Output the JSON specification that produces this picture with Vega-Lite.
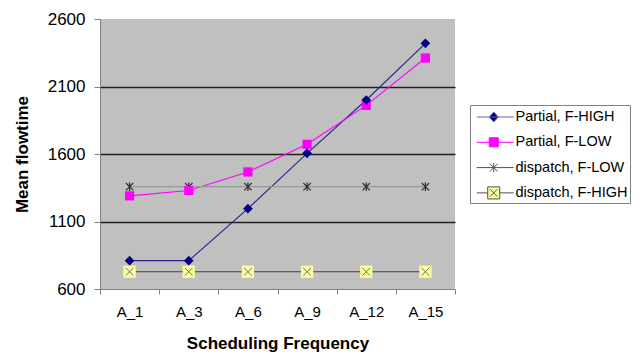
{
  "$schema": "https://vega.github.io/schema/vega-lite/v6.json",
  "width": 355,
  "height": 270,
  "autosize": {"type": "none"},
  "padding": {"left": 100, "top": 19, "right": 189, "bottom": 67},
  "background": "white",
  "config": {
    "view": {"fill": "#C0C0C0", "stroke": null},
    "font": "Liberation Sans"
  },
  "data": {
    "values": [
      {"freq": "A_1", "series": "Partial, F-HIGH", "flowtime": 810},
      {"freq": "A_3", "series": "Partial, F-HIGH", "flowtime": 810},
      {"freq": "A_6", "series": "Partial, F-HIGH", "flowtime": 1195},
      {"freq": "A_9", "series": "Partial, F-HIGH", "flowtime": 1605},
      {"freq": "A_12", "series": "Partial, F-HIGH", "flowtime": 2000},
      {"freq": "A_15", "series": "Partial, F-HIGH", "flowtime": 2420},
      {"freq": "A_1", "series": "Partial, F-LOW", "flowtime": 1290},
      {"freq": "A_3", "series": "Partial, F-LOW", "flowtime": 1330},
      {"freq": "A_6", "series": "Partial, F-LOW", "flowtime": 1467},
      {"freq": "A_9", "series": "Partial, F-LOW", "flowtime": 1672},
      {"freq": "A_12", "series": "Partial, F-LOW", "flowtime": 1960},
      {"freq": "A_15", "series": "Partial, F-LOW", "flowtime": 2311},
      {"freq": "A_1", "series": "dispatch, F-LOW", "flowtime": 1358},
      {"freq": "A_3", "series": "dispatch, F-LOW", "flowtime": 1358},
      {"freq": "A_6", "series": "dispatch, F-LOW", "flowtime": 1358},
      {"freq": "A_9", "series": "dispatch, F-LOW", "flowtime": 1358},
      {"freq": "A_12", "series": "dispatch, F-LOW", "flowtime": 1358},
      {"freq": "A_15", "series": "dispatch, F-LOW", "flowtime": 1358},
      {"freq": "A_1", "series": "dispatch, F-HIGH", "flowtime": 728},
      {"freq": "A_3", "series": "dispatch, F-HIGH", "flowtime": 728},
      {"freq": "A_6", "series": "dispatch, F-HIGH", "flowtime": 728},
      {"freq": "A_9", "series": "dispatch, F-HIGH", "flowtime": 728},
      {"freq": "A_12", "series": "dispatch, F-HIGH", "flowtime": 728},
      {"freq": "A_15", "series": "dispatch, F-HIGH", "flowtime": 728}
    ]
  },
  "encoding": {
    "x": {
      "field": "freq",
      "type": "ordinal",
      "sort": ["A_1", "A_3", "A_6", "A_9", "A_12", "A_15"],
      "bandPosition": 0.5,
      "scale": {"type": "band", "paddingInner": 0, "paddingOuter": 0},
      "axis": {
        "title": "Scheduling Frequency",
        "titleFontSize": 17,
        "titleFontWeight": "bold",
        "titleColor": "#000000",
        "titlePadding": 16,
        "labelAngle": 0,
        "labelFontSize": 15,
        "labelColor": "#000000",
        "labelPadding": 10,
        "tickBand": "extent",
        "tickSize": 5,
        "tickColor": "#808080",
        "domainColor": "#808080",
        "grid": false
      }
    },
    "y": {
      "field": "flowtime",
      "type": "quantitative",
      "scale": {"domain": [600, 2600], "nice": false, "zero": false},
      "axis": {
        "title": "Mean flowtime",
        "titleFontSize": 17,
        "titleFontWeight": "bold",
        "titleColor": "#000000",
        "titlePadding": 16,
        "values": [600, 1100, 1600, 2100, 2600],
        "format": "d",
        "labelFontSize": 17,
        "labelColor": "#000000",
        "labelPadding": 9,
        "tickSize": 6,
        "tickColor": "#808080",
        "domainColor": "#808080",
        "grid": true,
        "gridColor": "#202020",
        "gridWidth": 1.3,
        "gridOpacity": {"condition": {"test": "datum.value == 600 || datum.value == 2600", "value": 0}, "value": 1}
      }
    }
  },
  "layer": [
    {
      "mark": {"type": "line", "strokeWidth": 1.1},
      "encoding": {
        "color": {
          "field": "series",
          "type": "nominal",
          "scale": {
            "range": ["#222288", "#FF00FF", "#404040", "#999999"]
          },
          "legend": null
        },
        "detail": {"field": "series"}
      }
    },
    {
      "transform": [{"filter": "datum.series == 'dispatch, F-HIGH'"}],
      "mark": {"type": "point", "shape": "square", "filled": true, "color": "#FFFF99", "size": 150, "opacity": 1}
    },
    {
      "transform": [{"filter": "datum.series == 'dispatch, F-HIGH'"}],
      "mark": {"type": "point", "shape": "M-1,-1L1,1M-1,1L1,-1", "filled": false, "color": "#707070", "strokeWidth": 1, "size": 60, "opacity": 1}
    },
    {
      "transform": [{"filter": "datum.series == 'dispatch, F-LOW'"}],
      "mark": {"type": "point", "shape": "M-1,-1L1,1M-1,1L1,-1M0,-1.2L0,1.2", "filled": false, "color": "#303030", "strokeWidth": 1.2, "size": 55, "opacity": 1}
    },
    {
      "transform": [{"filter": "datum.series == 'Partial, F-LOW'"}],
      "mark": {"type": "point", "shape": "square", "filled": true, "color": "#FF00FF", "size": 85, "opacity": 1}
    },
    {
      "transform": [{"filter": "datum.series == 'Partial, F-HIGH'"}],
      "mark": {"type": "point", "shape": "diamond", "filled": true, "color": "#000080", "size": 95, "opacity": 1}
    },
    {
      "mark": {"type": "point", "filled": true, "size": 0, "opacity": 1},
      "encoding": {
        "shape": {
          "field": "series",
          "type": "nominal",
          "scale": {
            "domain": ["Partial, F-HIGH", "Partial, F-LOW", "dispatch, F-LOW", "dispatch, F-HIGH"],
            "range": [
              "M-0.57,0H3.43M0.78,0L1.27,-0.54L1.76,0L1.27,0.54Z",
              "M-0.57,0H3.43M0.78,-0.49H1.76V0.49H0.78Z",
              "M-0.57,0H3.43M0.84,-0.43L1.7,0.43M0.84,0.43L1.7,-0.43M1.27,-0.5V0.5",
              "M-0.57,0H0.62M1.92,0H3.43M0.62,-0.65H1.92V0.65H0.62ZM0.87,-0.4L1.67,0.4M0.87,0.4L1.67,-0.4"
            ]
          },
          "legend": {
            "title": null,
            "orient": "none",
            "legendX": 370,
            "legendY": 86,
            "strokeColor": "#808080",
            "fillColor": "#FFFFFF",
            "padding": 2,
            "labelFont": "Liberation Sans",
            "labelFontSize": 14.5,
            "labelColor": "#000000",
            "labelOffset": 23.5,
            "symbolSize": 342,
            "symbolStrokeWidth": 1,
            "symbolOpacity": 1,
            "rowPadding": 8.3
          }
        },
        "fill": {
          "field": "series",
          "type": "nominal",
          "scale": {
            "domain": ["Partial, F-HIGH", "Partial, F-LOW", "dispatch, F-LOW", "dispatch, F-HIGH"],
            "range": ["#000080", "#FF00FF", "#303030", "#FFFF99"]
          }
        },
        "stroke": {
          "field": "series",
          "type": "nominal",
          "scale": {
            "domain": ["Partial, F-HIGH", "Partial, F-LOW", "dispatch, F-LOW", "dispatch, F-HIGH"],
            "range": ["#6666AA", "#FF00FF", "#505050", "#505050"]
          }
        }
      }
    }
  ]
}
